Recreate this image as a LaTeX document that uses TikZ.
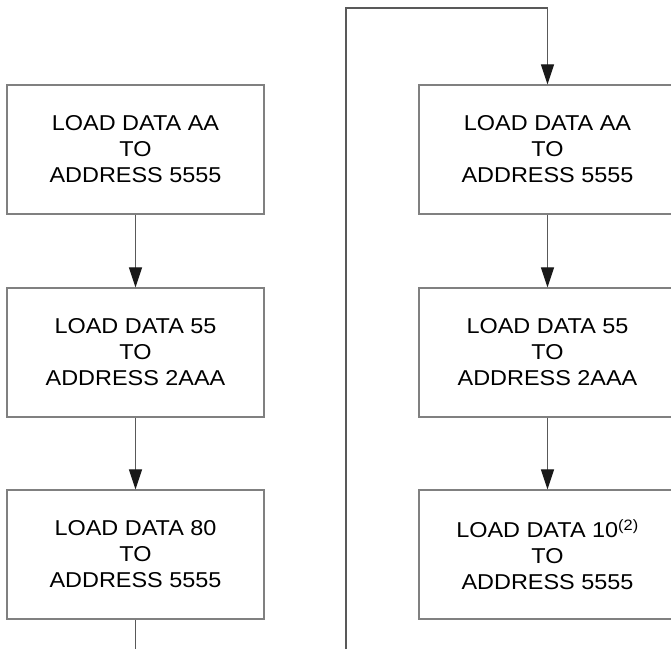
\documentclass[tikz,border=0pt]{standalone}
\usepackage{fontspec}
\setmainfont{Liberation Sans}[FakeStretch=1.09]
\usetikzlibrary{arrows.meta}
\begin{document}
\begin{tikzpicture}[x=1pt,y=-1pt,
  stepbox/.style={draw=black!50, line width=1.3pt, minimum width=257pt, minimum height=129pt,
    align=center, font=\fontsize{21.5}{26}\selectfont, inner sep=0pt},
  conn/.style={draw=black!65, line width=1.1pt},
  arr/.style={conn, -{Triangle[length=20pt,width=13pt,color=black!90,fill=black!90]}}]
\useasboundingbox (0,0) rectangle (671,649);
\node[stepbox] (l1) at (135.5,149.5) {LOAD DATA AA\\TO\\ADDRESS 5555};
\node[stepbox] (l2) at (135.5,352.5) {LOAD DATA 55\\TO\\ADDRESS 2AAA};
\node[stepbox] (l3) at (135.5,554.5) {LOAD DATA 80\\TO\\ADDRESS 5555};
\node[stepbox] (r1) at (547.5,149.5) {LOAD DATA AA\\TO\\ADDRESS 5555};
\node[stepbox] (r2) at (547.5,352.5) {LOAD DATA 55\\TO\\ADDRESS 2AAA};
\node[stepbox] (r3) at (547.5,554.5) {LOAD DATA 10\textsuperscript{(2)}\\TO\\ADDRESS 5555};
\coordinate (lend) at (135.5,649);
\coordinate (c1) at (346,649);
\coordinate (c2) at (346,8);
\draw[arr] (l1) -- (l2);
\draw[arr] (l2) -- (l3);
\draw[conn] (l3.south) -- (lend);
\draw[arr] (c1) -- (c2) -| (r1.north);
\draw[arr] (r1) -- (r2);
\draw[arr] (r2) -- (r3);
\end{tikzpicture}
\end{document}
